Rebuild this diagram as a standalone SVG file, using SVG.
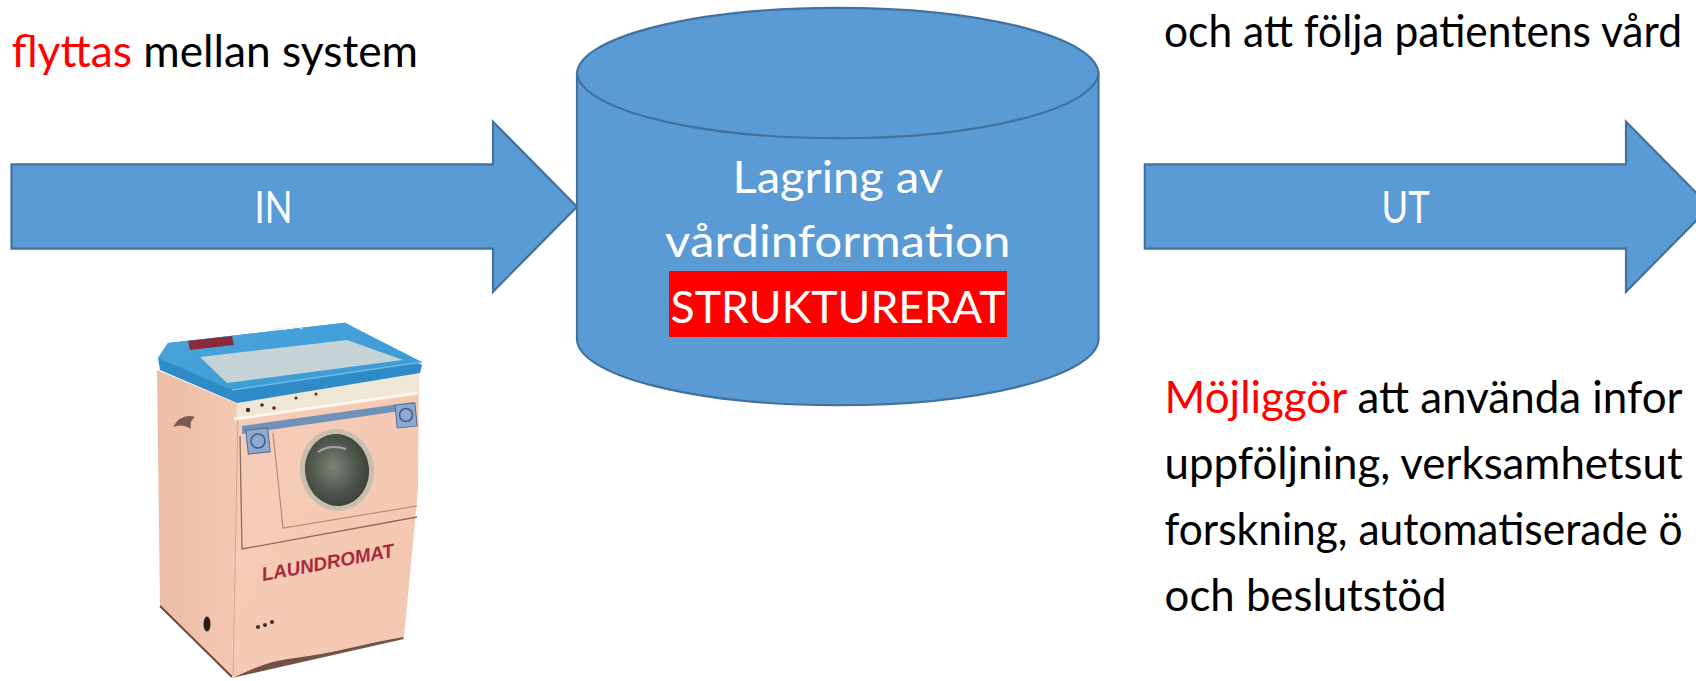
<svg xmlns="http://www.w3.org/2000/svg" width="1696" height="681" viewBox="0 0 1696 681">
<style>
  .shape{fill:#5b9bd5;stroke:#41719c;stroke-width:2.2;stroke-linejoin:miter}
  .lbl{font-family:Lato,"Open Sans","Liberation Sans",sans-serif;font-size:45px;fill:#ffffff}
  .txt{font-family:Lato,"Open Sans","Liberation Sans",sans-serif;font-size:45px;fill:#000000}
  .txr{font-family:Lato,"Open Sans","Liberation Sans",sans-serif;font-size:43.5px;fill:#000000}
  .red{fill:#ff0000}
</style>
<defs>
  <linearGradient id="side" x1="0" y1="0" x2="1" y2="0">
    <stop offset="0" stop-color="#ecbda6"/>
    <stop offset="1" stop-color="#f3c8b3"/>
  </linearGradient>
  <linearGradient id="front" x1="0" y1="0" x2="1" y2="1">
    <stop offset="0" stop-color="#f6cdb9"/>
    <stop offset="1" stop-color="#f3c6b0"/>
  </linearGradient>
  <radialGradient id="glass" cx="0.45" cy="0.45" r="0.6">
    <stop offset="0" stop-color="#7d8378"/>
    <stop offset="0.6" stop-color="#4f564e"/>
    <stop offset="1" stop-color="#3a3f38"/>
  </radialGradient>
  <linearGradient id="lidtop" x1="0" y1="0" x2="1" y2="1">
    <stop offset="0" stop-color="#4aa6dc"/>
    <stop offset="1" stop-color="#3b97d2"/>
  </linearGradient>
</defs>

<rect width="1696" height="681" fill="#ffffff"/>

<g id="text-top-left">
  <text class="txt" x="11.5" y="67" textLength="406.5" lengthAdjust="spacingAndGlyphs"><tspan class="red">flyttas</tspan> mellan system</text>
</g>

<g id="text-top-right">
  <text class="txr" x="1164" y="47" textLength="518" lengthAdjust="spacingAndGlyphs">och att följa patientens vård</text>
</g>

<g id="connectors">
  <g id="arrow-in">
    <polygon class="shape" points="11.5,164.3 493,164.3 493,121.7 577,206.7 493,291.7 493,248.7 11.5,248.7"/>
    <text class="lbl" x="273.6" y="223" text-anchor="middle" textLength="38" lengthAdjust="spacingAndGlyphs">IN</text>
  </g>
  <g id="arrow-out">
    <polygon class="shape" points="1144.8,164.3 1626,164.3 1626,121.7 1710,206.7 1626,291.7 1626,248.7 1144.8,248.7"/>
    <text class="lbl" x="1405.6" y="222.7" text-anchor="middle" textLength="48" lengthAdjust="spacingAndGlyphs">UT</text>
  </g>
</g>

<g id="storage">
  <path class="shape" d="M577,73 A260.8,66.5 0 0 1 1098.5,73 V340 A260.8,66.5 0 0 1 577,340 Z"/>
  <path class="shape" style="fill:none" d="M577,73 A260.8,66.5 0 0 0 1098.5,73"/>
  <text class="lbl" x="837.8" y="193.3" text-anchor="middle" textLength="210.6" lengthAdjust="spacingAndGlyphs">Lagring av</text>
  <text class="lbl" x="837.8" y="257.3" text-anchor="middle" textLength="345.4" lengthAdjust="spacingAndGlyphs">vårdinformation</text>
  <rect x="669" y="271" width="338" height="66" fill="#ff0000"/>
  <text class="lbl" x="838" y="322.7" text-anchor="middle" textLength="335" lengthAdjust="spacingAndGlyphs">STRUKTURERAT</text>
</g>

<g id="text-bottom-right">
  <text class="txr" x="1164.6" y="413.4" textLength="518" lengthAdjust="spacingAndGlyphs"><tspan class="red">Möjliggör</tspan> att använda infor</text>
  <text class="txr" x="1164.6" y="479.2" textLength="518" lengthAdjust="spacingAndGlyphs">uppföljning, verksamhetsut</text>
  <text class="txr" x="1164.6" y="545" textLength="518" lengthAdjust="spacingAndGlyphs">forskning, automatiserade ö</text>
  <text class="txr" x="1164.6" y="610.8" textLength="282" lengthAdjust="spacingAndGlyphs">och beslutstöd</text>
</g>

<g id="washer">
  <!-- left side -->
  <polygon points="157,370 238,404 232,677 160,606" fill="url(#side)"/>
  <path d="M160,606 L232,677" stroke="#6b4a3a" stroke-width="2" fill="none"/>
  <!-- front -->
  <polygon points="238,404 419,380 418,490 404,637 232,677" fill="url(#front)"/>
  <path d="M238,410 L233,676" stroke="#d9a892" stroke-width="1.2" fill="none"/>
  <!-- interior cream -->
  <polygon points="237,403 420,372 418,394 236,420" fill="#efe7d6"/>
  <circle cx="248" cy="410" r="2.2" fill="#4a2a20"/>
  <circle cx="262" cy="405" r="1.8" fill="#4a2a20"/>
  <circle cx="274" cy="408" r="1.8" fill="#4a2a20"/>
  <circle cx="296" cy="398" r="1.5" fill="#4a2a20"/>
  <circle cx="316" cy="394" r="1.5" fill="#4a2a20"/>
  <!-- rim -->
  <path d="M234,419 L418,393" stroke="#fbf6ee" stroke-width="3" fill="none"/>
  <!-- blue strip with badges -->
  <polygon points="242,426 414,402 414,409 242,434" fill="#6f93b8"/>
  <rect x="247" y="429" width="22" height="24" fill="#8fa8cc" stroke="#4a6c9a" stroke-width="1" transform="rotate(-6 258 441)"/>
  <circle cx="258" cy="441" r="7" fill="none" stroke="#3d5f92" stroke-width="1.6"/>
  <rect x="396" y="404" width="20" height="23" fill="#8fa8cc" stroke="#4a6c9a" stroke-width="1" transform="rotate(-6 406 415)"/>
  <circle cx="406" cy="415" r="6.5" fill="none" stroke="#3d5f92" stroke-width="1.6"/>
  <!-- door panel outlines -->
  <path d="M240,436 L242,549 L417,517" stroke="#8e6a5a" stroke-width="1.3" fill="none"/>
  <path d="M273,433 L283,528 L417,506" stroke="#b48a78" stroke-width="1.2" fill="none"/>
  <!-- porthole -->
  <ellipse cx="337" cy="470" rx="37" ry="41" fill="#c9beae" transform="rotate(-8 337 470)"/>
  <ellipse cx="337" cy="470" rx="32" ry="36" fill="url(#glass)" transform="rotate(-8 337 470)"/>
  <path d="M318,452 Q330,444 346,449" stroke="#a3a89c" stroke-width="2" fill="none"/>
  <!-- lid -->
  <polygon points="158,358 168,343 345,322.7 422,365 420,373 237,403 160,370" fill="#2f8bc8"/>
  <polygon points="168,343 345,322.7 422,362 232,390 158,358" fill="url(#lidtop)"/>
  <polygon points="200,357 347,340 403,360 227,383" fill="#c5d3d6"/>
  <polygon points="188,341 232,336 234,345 190,350" fill="#8a2a3a"/>
  <path d="M232,390 L422,362" stroke="#6cbbe8" stroke-width="1.5" fill="none"/>
  <path d="M272,330 q8,-4 14,0 M292,328 q6,-3 10,1" stroke="#e6eef5" stroke-width="1.5" fill="none"/>
  <!-- side mark -->
  <path d="M173,427 q8,-14 22,-10 q-6,4 -4,12 q-8,-6 -18,-2z" fill="#7a5a4e"/>
  <!-- label -->
  <text x="263" y="581" transform="rotate(-10.5 263 581)" font-family="'Liberation Sans',Arial,sans-serif" font-weight="bold" font-style="italic" font-size="19" fill="#a8283a" textLength="134" lengthAdjust="spacingAndGlyphs">LAUNDROMAT</text>
  <!-- hole and marks -->
  <ellipse cx="207" cy="624" rx="3.5" ry="7.5" fill="#2a1a16"/>
  <circle cx="258" cy="627" r="2" fill="#3a2a26"/>
  <circle cx="265" cy="625" r="2" fill="#3a2a26"/>
  <circle cx="272" cy="622" r="2" fill="#3a2a26"/>
  <!-- rust at bottom -->
  <path d="M255,668 q20,-8 40,-10 q30,-4 55,-10 q25,-6 53,-11 L404,639 L232,678 Z" fill="#5a3b30" opacity="0.85"/>
</g>
</svg>
